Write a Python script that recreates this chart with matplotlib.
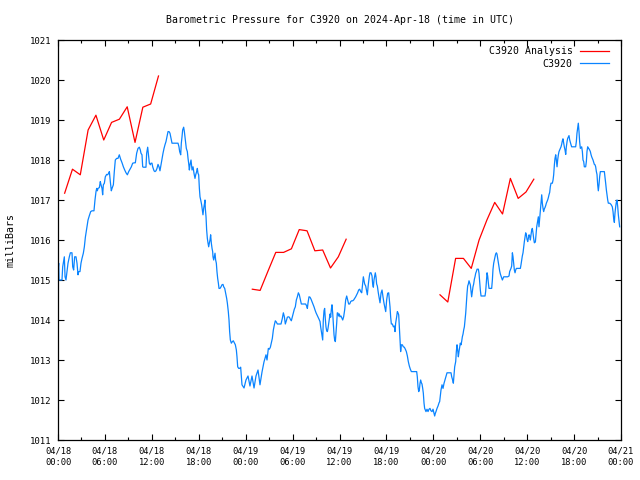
import matplotlib
matplotlib.use("Agg")
import matplotlib.pyplot as plt
import numpy as np

# ---------------- data ----------------
title = "Barometric Pressure for C3920 on 2024-Apr-18 (time in UTC)"
ylabel = "milliBars"
series_names = ["C3920 Analysis", "C3920"]

# hours since 2024-04-18 00:00 UTC
tick_hours = [0, 6, 12, 18, 24, 30, 36, 42, 48, 54, 60, 66, 72]
tick_labels = ["04/18\n00:00", "04/18\n06:00", "04/18\n12:00", "04/18\n18:00",
               "04/19\n00:00", "04/19\n06:00", "04/19\n12:00", "04/19\n18:00",
               "04/20\n00:00", "04/20\n06:00", "04/20\n12:00", "04/20\n18:00",
               "04/21\n00:00"]
y_ticks = [1011, 1012, 1013, 1014, 1015, 1016, 1017, 1018, 1019, 1020, 1021]

# analysis (three hourly segments)
ana_t1 = [0.85, 1.85, 2.85, 3.85, 4.85, 5.85, 6.85, 7.85, 8.85, 9.85, 10.85, 11.85, 12.85]
ana_p1 = [1017.17, 1017.77, 1017.63, 1018.75, 1019.12, 1018.50, 1018.94, 1019.02,
          1019.33, 1018.44, 1019.32, 1019.40, 1020.10]
ana_t2 = [24.85, 25.85, 26.85, 27.85, 28.85, 29.85, 30.85, 31.85, 32.85, 33.85, 34.85, 35.85, 36.85]
ana_p2 = [1014.77, 1014.74, 1015.22, 1015.69, 1015.69, 1015.78, 1016.26, 1016.23,
          1015.73, 1015.75, 1015.30, 1015.58, 1016.02]
ana_t3 = [48.85, 49.85, 50.85, 51.85, 52.85, 53.85, 54.85, 55.85, 56.85, 57.85, 58.85, 59.85, 60.85]
ana_p3 = [1014.63, 1014.45, 1015.54, 1015.54, 1015.29, 1016.00, 1016.50, 1016.94,
          1016.65, 1017.54, 1017.04, 1017.20, 1017.52]

# observations
obs_t = [
    0.00, 0.09, 0.13, 0.51, 0.60, 0.81, 0.90, 1.02, 1.15, 1.28, 1.45, 1.58, 1.79, 1.88, 2.00,
    2.13, 2.30, 2.43, 2.56, 2.64, 2.81, 2.94, 3.07, 3.24, 3.37, 3.50, 3.67, 3.84, 4.01, 4.18,
    4.35, 4.60, 4.73, 4.86, 4.95, 5.03, 5.12, 5.29, 5.41, 5.50, 5.63, 5.71, 5.80, 5.93, 6.05,
    6.22, 6.35, 6.48, 6.57, 6.69, 6.82, 6.91, 7.08, 7.20, 7.33, 7.50, 7.67, 7.84, 8.01, 8.19,
    8.36, 8.53, 8.70, 8.87, 9.04, 9.21, 9.38, 9.55, 9.76, 9.89, 10.06, 10.23, 10.40, 10.53,
    10.61, 10.74, 10.83, 10.91, 11.25, 11.34, 11.47, 11.55, 11.68, 11.81, 11.89, 12.02, 12.11,
    12.28, 12.40,
    12.53, 12.66, 12.79, 12.92, 13.04, 13.17, 13.30, 13.43, 13.56, 13.68, 13.81, 13.94, 14.07,
    14.20, 14.32, 14.45, 14.58, 14.84, 15.09, 15.35, 15.47, 15.56, 15.69, 15.77, 15.86, 15.94,
    16.07, 16.16, 16.28, 16.41, 16.54, 16.63, 16.71, 16.80, 16.88, 17.01, 17.14, 17.27, 17.39,
    17.52, 17.61, 17.73, 17.82, 17.90, 17.99, 18.08, 18.16, 18.25, 18.37, 18.46, 18.54, 18.63,
    18.71, 18.80, 18.84, 18.93, 19.01, 19.10, 19.18, 19.27, 19.35, 19.44, 19.52, 19.61, 19.70,
    19.78, 19.82, 19.91, 19.99, 20.08, 20.16, 20.25, 20.33, 20.42, 20.51, 20.59, 20.72, 20.85,
    20.97, 21.10, 21.19, 21.32, 21.44, 21.57, 21.66, 21.78, 21.87, 21.95, 22.04, 22.17, 22.30,
    22.42, 22.55, 22.68, 22.81, 22.89, 22.98, 23.11, 23.23, 23.36,
    23.53, 23.79, 24.04, 24.30, 24.55, 24.81, 25.07, 25.32, 25.58, 25.83, 26.09, 26.34, 26.60,
    26.73, 26.81, 26.90, 27.03, 27.16, 27.28, 27.41, 27.54, 27.67, 27.79, 27.92, 28.05, 28.31,
    28.52, 28.69, 28.82, 28.95, 29.07, 29.20, 29.33, 29.46, 29.59, 29.71, 29.84, 29.97, 30.10,
    30.22, 30.35, 30.48, 30.61, 30.74, 30.86, 30.99, 31.12, 31.25, 31.46, 31.67, 31.80, 31.89,
    31.97, 32.10, 32.23, 32.36, 32.48, 32.61, 32.74, 32.87, 33.00, 33.12, 33.25, 33.38, 33.51,
    33.59, 33.68, 33.76, 33.85, 33.93, 34.02, 34.10, 34.19, 34.27, 34.36, 34.45, 34.53, 34.62,
    34.70, 34.79, 34.87, 34.96, 35.04, 35.13, 35.21, 35.30, 35.38, 35.47, 35.55, 35.64, 35.72,
    35.81, 35.89, 35.98, 36.06,
    36.19, 36.32, 36.41, 36.53, 36.66, 36.79, 36.92, 37.05, 37.17, 37.30, 37.43, 37.56, 37.69,
    37.81, 37.94, 38.07, 38.20, 38.32, 38.45, 38.58, 38.71, 38.84, 38.92, 39.05, 39.13, 39.22,
    39.35, 39.48, 39.56, 39.69, 39.82, 39.90, 40.03, 40.16, 40.24, 40.33, 40.41, 40.50, 40.58,
    40.67, 40.75, 40.84, 40.97, 41.10, 41.18, 41.31, 41.44, 41.56, 41.69, 41.82, 41.91, 42.03,
    42.16, 42.29, 42.37, 42.46, 42.54, 42.63, 42.76, 42.89, 43.01, 43.10, 43.18, 43.31, 43.40,
    43.48, 43.57, 43.65, 43.74, 43.82, 43.91, 44.04, 44.16, 44.29, 44.42, 44.55, 44.68, 44.80,
    44.93, 45.06, 45.19, 45.44, 45.70, 45.87, 45.95, 46.04, 46.13, 46.21, 46.30, 46.38, 46.47,
    46.55, 46.64, 46.72, 46.81, 46.89, 46.98, 47.06, 47.19, 47.32, 47.45, 47.57, 47.70, 47.83,
    47.96, 48.09, 48.17, 48.26, 48.34, 48.47, 48.60, 48.73, 48.81,
    48.98, 49.11, 49.24, 49.37, 49.49, 49.62, 49.75, 50.00, 50.26, 50.35, 50.47, 50.56, 50.64,
    50.73, 50.86, 50.94, 51.03, 51.11, 51.20, 51.28, 51.37, 51.45, 51.54, 51.62, 51.71, 51.80,
    51.88, 51.97, 52.05, 52.14, 52.22, 52.31, 52.39, 52.48, 52.56, 52.65, 52.73, 52.82, 52.90,
    52.99, 53.07, 53.16, 53.25, 53.33, 53.42, 53.50, 53.59, 53.76, 53.84, 53.93, 54.01, 54.10,
    54.27, 54.44, 54.61, 54.69, 54.78, 54.87, 54.95, 55.04, 55.12, 55.29, 55.46, 55.55, 55.63,
    55.72, 55.80, 55.89, 55.97, 56.06, 56.14, 56.23, 56.31, 56.40, 56.48, 56.57, 56.66, 56.74,
    56.83, 56.91, 57.00, 57.17, 57.34, 57.51, 57.68, 57.76, 57.85, 57.93, 58.02, 58.11, 58.19,
    58.28, 58.36, 58.45, 58.53, 58.62, 58.79, 58.96, 59.13, 59.21, 59.30, 59.38, 59.47, 59.56,
    59.64, 59.73, 59.81, 59.90, 59.98, 60.07, 60.15, 60.24, 60.32, 60.41, 60.49, 60.58, 60.66,
    60.75, 60.83, 60.92, 61.05, 61.22, 61.43,
    61.51, 61.60, 61.68, 61.77, 61.86, 61.94, 62.03, 62.11, 62.20, 62.28, 62.37, 62.45, 62.54,
    62.62, 62.71, 62.79, 62.88, 62.96, 63.05, 63.22, 63.31, 63.39, 63.48, 63.56, 63.65, 63.73,
    63.82, 63.90, 63.99, 64.07, 64.16, 64.24, 64.33, 64.41, 64.50, 64.58, 64.67, 64.75, 64.84,
    64.93, 65.01, 65.10, 65.18, 65.27, 65.35, 65.44, 65.52, 65.61, 65.69, 65.95, 66.20, 66.29,
    66.37, 66.46, 66.54, 66.63, 66.71, 66.80, 66.89, 66.97, 67.06, 67.14, 67.23, 67.31, 67.48,
    67.57, 67.65, 67.74, 67.82, 67.91, 67.99, 68.08, 68.16, 68.25, 68.33, 68.42, 68.51, 68.59,
    68.68, 68.76, 68.85, 68.93, 69.02, 69.10, 69.19, 69.27, 69.36, 69.53, 69.70, 69.87, 69.95,
    70.04, 70.13, 70.21, 70.30, 70.38, 70.55, 70.72, 70.89, 70.98, 71.06, 71.15, 71.23, 71.32,
    71.40, 71.49, 71.58, 71.66, 71.75, 71.83]
obs_p = [
    1015.21, 1015.42, 1015.00, 1015.00, 1015.33, 1015.58, 1015.08, 1015.00, 1015.21, 1015.42,
    1015.58, 1015.68, 1015.68, 1015.33, 1015.25, 1015.58, 1015.58, 1015.42, 1015.13, 1015.21,
    1015.21, 1015.42, 1015.54, 1015.67, 1015.83, 1016.07, 1016.29, 1016.50, 1016.61, 1016.71,
    1016.73, 1016.73, 1017.00, 1017.21, 1017.29, 1017.23, 1017.29, 1017.31, 1017.46, 1017.38,
    1017.29, 1017.13, 1017.38, 1017.42, 1017.58, 1017.64, 1017.63, 1017.67, 1017.71, 1017.46,
    1017.23, 1017.29, 1017.38, 1017.71, 1018.00, 1018.04, 1018.04, 1018.13, 1018.02, 1017.93,
    1017.83, 1017.75, 1017.68, 1017.63, 1017.71, 1017.77, 1017.83, 1017.92, 1017.93, 1017.93,
    1018.17, 1018.29, 1018.32, 1018.25, 1018.17, 1018.13, 1017.83, 1017.82, 1017.82, 1018.17,
    1018.32, 1018.17, 1017.92, 1017.88, 1017.92, 1017.92, 1017.83, 1017.73, 1017.71,
    1017.73, 1017.79, 1017.89, 1017.83, 1017.73, 1017.88, 1018.04, 1018.17, 1018.29, 1018.38,
    1018.46, 1018.58, 1018.71, 1018.71, 1018.67, 1018.54, 1018.42, 1018.42, 1018.42, 1018.42,
    1018.33, 1018.21, 1018.13, 1018.42, 1018.58, 1018.75, 1018.82, 1018.71, 1018.50, 1018.29,
    1018.21, 1018.04, 1017.92, 1017.75, 1017.88, 1018.00, 1017.75, 1017.83, 1017.67, 1017.54,
    1017.63, 1017.71, 1017.79, 1017.67, 1017.63, 1017.29, 1017.08, 1017.00, 1016.88, 1016.75,
    1016.63, 1016.79, 1016.88, 1017.00, 1016.79, 1016.58, 1016.25, 1016.04, 1015.93, 1015.83,
    1015.92, 1016.00, 1016.13, 1015.92, 1015.79, 1015.71, 1015.58, 1015.50, 1015.58, 1015.67,
    1015.50, 1015.42, 1015.21, 1015.04, 1014.92, 1014.79, 1014.79, 1014.83, 1014.88, 1014.89,
    1014.83, 1014.79, 1014.67, 1014.54, 1014.42, 1014.21, 1014.00, 1013.71, 1013.50, 1013.42,
    1013.46, 1013.48, 1013.43, 1013.38, 1013.25, 1013.08, 1012.83, 1012.79, 1012.79, 1012.82,
    1012.38, 1012.30, 1012.50, 1012.60, 1012.35, 1012.60, 1012.30, 1012.60, 1012.75, 1012.38,
    1012.70, 1012.95, 1013.13,
    1013.00, 1013.13, 1013.29, 1013.27, 1013.32, 1013.42, 1013.54, 1013.75, 1013.88, 1013.98,
    1013.95, 1013.90, 1013.90, 1013.90, 1014.04, 1014.18, 1014.08, 1013.90, 1013.98, 1014.07,
    1014.08, 1014.07, 1014.02, 1013.98, 1014.08, 1014.18, 1014.27, 1014.33, 1014.50, 1014.58,
    1014.68, 1014.63, 1014.52, 1014.40, 1014.40, 1014.40, 1014.40, 1014.35, 1014.29, 1014.42,
    1014.58, 1014.57, 1014.52, 1014.46, 1014.40, 1014.33, 1014.25, 1014.18, 1014.13, 1014.07,
    1014.02, 1013.96, 1013.83, 1013.71, 1013.60, 1013.50, 1014.00, 1014.23, 1014.29, 1014.02,
    1013.83, 1013.73, 1013.71, 1013.79, 1013.92, 1014.04, 1014.15, 1014.07, 1014.27, 1014.38,
    1014.17, 1013.92, 1013.63, 1013.50, 1013.46, 1013.67, 1013.92, 1014.18, 1014.17, 1014.10,
    1014.15, 1014.08,
    1014.10, 1014.04, 1014.00, 1014.08, 1014.25, 1014.50, 1014.60, 1014.50, 1014.40, 1014.40,
    1014.46, 1014.48, 1014.48, 1014.50, 1014.54, 1014.58, 1014.63, 1014.68, 1014.75, 1014.77,
    1014.71, 1014.68, 1014.83, 1015.08, 1015.00, 1014.90, 1014.85, 1014.71, 1014.63, 1014.90,
    1015.10, 1015.18, 1015.18, 1015.10, 1014.90, 1014.82, 1015.00, 1015.10, 1015.18, 1015.07,
    1014.90, 1014.85, 1014.67, 1014.52, 1014.43, 1014.67, 1014.75, 1014.58, 1014.42, 1014.29,
    1014.21, 1014.50, 1014.67, 1014.68, 1014.52, 1014.33, 1014.08, 1013.90, 1013.90, 1013.83,
    1013.85, 1013.71, 1013.92, 1014.08, 1014.21, 1014.18, 1014.13, 1013.83, 1013.54, 1013.21,
    1013.38, 1013.38, 1013.33, 1013.32, 1013.27, 1013.21, 1013.10, 1012.96, 1012.85, 1012.77,
    1012.71, 1012.71, 1012.71, 1012.71, 1012.58, 1012.33, 1012.21, 1012.25, 1012.42, 1012.50,
    1012.43, 1012.40, 1012.29, 1012.17, 1011.92, 1011.79, 1011.75, 1011.71, 1011.77, 1011.71,
    1011.77, 1011.79, 1011.73, 1011.71, 1011.77, 1011.67, 1011.60, 1011.67, 1011.71, 1011.79,
    1011.85, 1011.93, 1011.96,
    1012.25, 1012.38, 1012.29, 1012.42, 1012.50, 1012.58, 1012.68, 1012.68, 1012.68, 1012.58,
    1012.50, 1012.42, 1012.63, 1012.83, 1012.96, 1013.21, 1013.38, 1013.25, 1013.08, 1013.21,
    1013.33, 1013.42, 1013.38, 1013.46, 1013.58, 1013.65, 1013.75, 1013.83, 1014.00, 1014.17,
    1014.42, 1014.67, 1014.85, 1014.90, 1014.98, 1014.93, 1014.88, 1014.71, 1014.58, 1014.71,
    1014.83, 1014.90, 1015.02, 1015.08, 1015.17, 1015.21, 1015.27, 1015.27, 1015.17, 1014.96,
    1014.75, 1014.60, 1014.60, 1014.60, 1014.60, 1014.71, 1014.96, 1015.18, 1015.10, 1014.92,
    1014.79, 1014.79, 1014.79, 1015.00, 1015.27, 1015.42, 1015.50, 1015.58, 1015.65, 1015.68,
    1015.65, 1015.54, 1015.43, 1015.33, 1015.23, 1015.15, 1015.10, 1015.06, 1015.00, 1015.04,
    1015.08, 1015.08, 1015.08, 1015.08, 1015.10, 1015.21, 1015.25, 1015.29, 1015.35, 1015.68,
    1015.58, 1015.40, 1015.25, 1015.18, 1015.25, 1015.29, 1015.29, 1015.29, 1015.29, 1015.38,
    1015.50, 1015.60, 1015.68, 1015.83, 1015.96, 1016.08, 1016.18, 1016.13, 1016.02, 1015.96,
    1016.04, 1016.13, 1016.10, 1016.00, 1016.13, 1016.25, 1016.29, 1016.17, 1016.04, 1015.93,
    1015.95, 1016.33, 1016.58,
    1016.33, 1016.54, 1016.75, 1016.96, 1017.13, 1016.92, 1016.79, 1016.71, 1016.78, 1016.81,
    1016.86, 1016.92, 1016.96, 1017.00, 1017.06, 1017.13, 1017.19, 1017.33, 1017.42, 1017.42,
    1017.50, 1017.63, 1017.88, 1018.04, 1018.13, 1018.00, 1017.83, 1018.00, 1018.13, 1018.21,
    1018.25, 1018.29, 1018.33, 1018.39, 1018.48, 1018.53, 1018.42, 1018.33, 1018.25, 1018.14,
    1018.33, 1018.46, 1018.54, 1018.58, 1018.61, 1018.50, 1018.44, 1018.38, 1018.33, 1018.33,
    1018.33, 1018.46, 1018.67, 1018.81, 1018.92, 1018.71, 1018.46, 1018.29, 1018.31, 1018.33,
    1018.21, 1018.00, 1017.96, 1017.83, 1017.83, 1017.96, 1018.21, 1018.33, 1018.29, 1018.28,
    1018.25, 1018.21, 1018.14, 1018.08, 1018.04, 1018.00, 1017.94, 1017.89, 1017.88, 1017.83,
    1017.71, 1017.64, 1017.38, 1017.23, 1017.39, 1017.58, 1017.71, 1017.71, 1017.71, 1017.71,
    1017.58, 1017.42, 1017.25, 1017.13, 1017.00, 1016.92, 1016.92, 1016.89, 1016.83, 1016.71,
    1016.54, 1016.44, 1016.67, 1016.83, 1016.94, 1017.00, 1016.83, 1016.63, 1016.48, 1016.33]

RED = "#ff0000"
BLUE = "#0a84ff"

# ---------------- plot ----------------
fig = plt.figure(figsize=(6.4, 4.8), dpi=100)
ax = fig.add_axes([58 / 640, 40 / 480, 563 / 640, 400 / 480])

mono = "DejaVu Sans Mono"
ln_a, = ax.plot(ana_t1, ana_p1, color=RED, lw=0.9, label=series_names[0])
ax.plot(ana_t2, ana_p2, color=RED, lw=0.9)
ax.plot(ana_t3, ana_p3, color=RED, lw=0.9)
ln_o, = ax.plot(obs_t, obs_p, color=BLUE, lw=0.9, label=series_names[1])

ax.set_xlim(0, 72)
ax.set_ylim(1011, 1021)
ax.set_xticks(tick_hours)
ax.set_xticklabels(tick_labels, fontfamily=mono, fontsize=6.3, linespacing=1.35)
ax.set_xticks(np.arange(3, 72, 6), minor=True)
ax.set_yticks(y_ticks)
ax.set_yticklabels([str(v) for v in y_ticks], fontfamily=mono, fontsize=6.5)

ax.tick_params(which="both", direction="in", top=True, right=True, color="black", width=0.8)
ax.tick_params(which="major", length=4, pad=5)
ax.tick_params(which="minor", length=2)
for s in ax.spines.values():
    s.set_linewidth(0.9)
    s.set_color("black")

fig.text(339.5 / 640, 1 - 20 / 480, title, ha="center", va="center",
         fontfamily=mono, fontsize=7.1)
fig.text(11 / 640, 0.5, ylabel, rotation=90, ha="center", va="center",
         fontfamily=mono, fontsize=7.1)

leg = ax.legend(handles=[ln_a, ln_o], loc="upper right", bbox_to_anchor=(1 - 6 / 563, 1),
                frameon=False, markerfirst=False,
                prop={"family": mono, "size": 7.1}, handlelength=2.9, handletextpad=0.75,
                labelspacing=0.22, borderaxespad=0.3, borderpad=0.35)

fig.savefig("out.png", dpi=100)
